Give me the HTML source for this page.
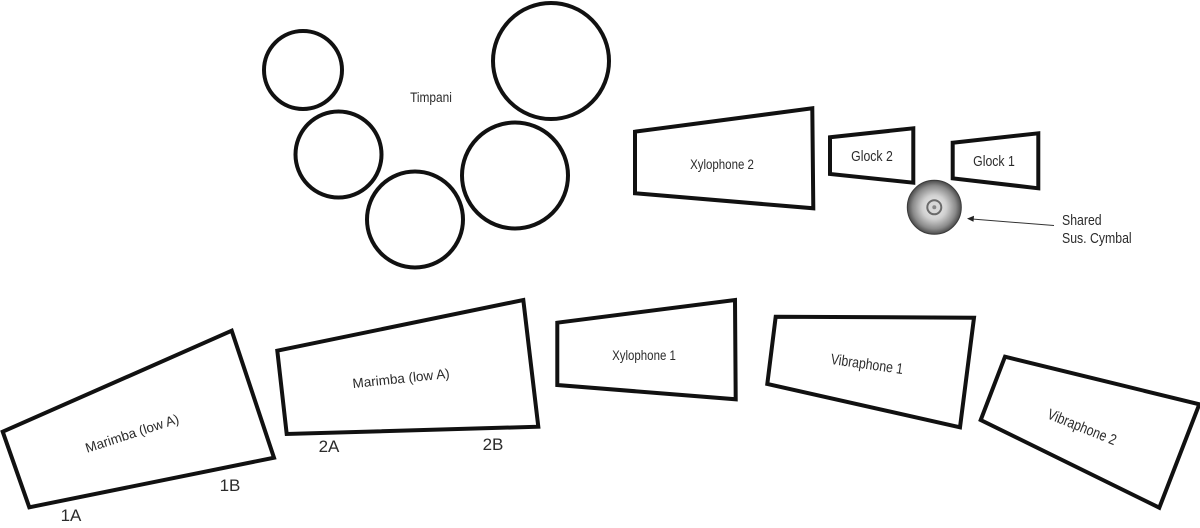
<!DOCTYPE html>
<html>
<head>
<meta charset="utf-8">
<style>
html,body{margin:0;padding:0;background:#fff;}
svg{display:block;}
text{font-family:"Liberation Sans",sans-serif;fill:#2b2b2b;}
</style>
</head>
<body>
<svg width="1200" height="528" viewBox="0 0 1200 528" xmlns="http://www.w3.org/2000/svg">
<defs>
<radialGradient id="cym" cx="50%" cy="50%" r="50%">
<stop offset="0" stop-color="#f4f4f4"/>
<stop offset="0.45" stop-color="#d0d0d0"/>
<stop offset="0.8" stop-color="#8a8a8a"/>
<stop offset="1" stop-color="#4a4a4a"/>
</radialGradient>
</defs>

<!-- Timpani -->
<g fill="none" stroke="#111" stroke-width="4">
<circle cx="303" cy="70" r="39"/>
<circle cx="338.5" cy="154.5" r="43"/>
<circle cx="415" cy="219.5" r="48"/>
<circle cx="515" cy="175.5" r="53"/>
<circle cx="551" cy="61" r="58"/>
</g>
<text x="431" y="102" font-size="14" text-anchor="middle" transform="translate(431,0) scale(0.85,1) translate(-431,0)">Timpani</text>

<!-- Top shapes -->
<g fill="none" stroke="#111" stroke-width="4" stroke-linejoin="miter">
<polygon points="635,131.7 812.3,108.3 813.3,208.3 635,193.3"/>
<polygon points="830,137.3 913.3,128.3 913.3,182.7 830,174"/>
<polygon points="952.7,142.7 1038.3,133.3 1038.3,188.3 952.7,178.3"/>
</g>
<g transform="translate(722,164) scale(0.82,1)"><text x="0" y="5" font-size="14" text-anchor="middle">Xylophone 2</text></g>
<g transform="translate(872,156) scale(0.82,1)"><text x="0" y="5" font-size="15" text-anchor="middle">Glock 2</text></g>
<g transform="translate(994,161) scale(0.82,1)"><text x="0" y="5" font-size="15" text-anchor="middle">Glock 1</text></g>

<!-- Cymbal -->
<circle cx="934.3" cy="207.3" r="27" fill="url(#cym)" stroke="#3a3a3a" stroke-width="1"/>
<circle cx="934.3" cy="207.3" r="7" fill="#d8d8d8" stroke="#6a6a6a" stroke-width="2"/>
<circle cx="934.3" cy="207.3" r="2" fill="#888"/>
<line x1="1054" y1="225.5" x2="972" y2="219" stroke="#333" stroke-width="1"/>
<polygon points="967,218.6 974,215.8 973.5,221.8" fill="#222"/>
<g transform="translate(1062,0) scale(0.82,1)">
<text x="0" y="225" font-size="15">Shared</text>
<text x="0" y="243" font-size="15">Sus. Cymbal</text>
</g>

<!-- Bottom shapes -->
<g fill="none" stroke="#111" stroke-width="4" stroke-linejoin="miter">
<polygon points="2.7,431.7 231.7,330.7 274,457.7 29.3,507.3"/>
<polygon points="277.3,350.7 523.3,300 538.3,426.7 286.7,434"/>
<polygon points="557.3,322.7 735,300 735.7,399.3 557.3,385"/>
<polygon points="775.7,316.7 974,317.7 960,427.3 767.3,384"/>
<polygon points="1005,356.7 1199.3,404.3 1159.3,507.7 980.7,420"/>
</g>
<g transform="translate(132,433) rotate(-18)"><text x="0" y="5" font-size="13.5" text-anchor="middle">Marimba (low A)</text></g>
<g transform="translate(401,378) rotate(-6)"><text x="0" y="5" font-size="13.5" text-anchor="middle">Marimba (low A)</text></g>
<g transform="translate(644,355) scale(0.82,1)"><text x="0" y="5" font-size="14" text-anchor="middle">Xylophone 1</text></g>
<g transform="translate(867,364) rotate(8) scale(0.82,1)"><text x="0" y="5" font-size="15" text-anchor="middle">Vibraphone 1</text></g>
<g transform="translate(1082,427) rotate(22) scale(0.82,1)"><text x="0" y="5" font-size="15" text-anchor="middle">Vibraphone 2</text></g>

<g font-size="17">
<text x="71" y="521" text-anchor="middle">1A</text>
<text x="230" y="491" text-anchor="middle">1B</text>
<text x="329" y="452" text-anchor="middle">2A</text>
<text x="493" y="450" text-anchor="middle">2B</text>
</g>
</svg>
</body>
</html>
